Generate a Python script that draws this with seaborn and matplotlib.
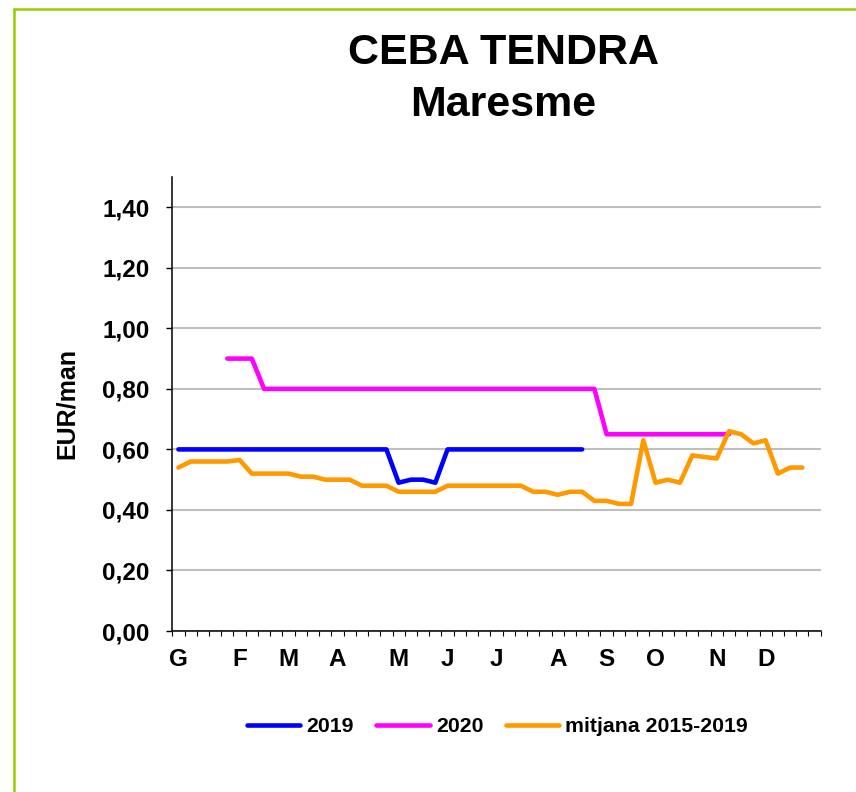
import matplotlib
matplotlib.use("Agg")
import matplotlib.pyplot as plt
from matplotlib.lines import Line2D
from matplotlib.ticker import FuncFormatter
import numpy as np
import pandas as pd
import seaborn as sns

# setmanes de l'any (53 categories a l'eix)
n_setmanes = 53
mesos = ["G", "F", "M", "A", "M", "J", "J", "A", "S", "O", "N", "D"]
setmana_mes = [0, 5, 9, 13, 18, 22, 26, 31, 35, 39, 44, 48]

setmanes_2019 = list(range(0, 34))
preu_2019 = [0.60] * 18 + [0.49, 0.50, 0.50, 0.49] + [0.60] * 12

setmanes_2020 = list(range(4, 46))
preu_2020 = [0.90] * 3 + [0.80] * 28 + [0.65] * 11

setmanes_mitjana = list(range(0, 52))
preu_mitjana = [0.54, 0.56, 0.56, 0.56, 0.56, 0.565, 0.52, 0.52, 0.52, 0.52,
                0.51, 0.51, 0.50, 0.50, 0.50, 0.48, 0.48, 0.48, 0.46, 0.46,
                0.46, 0.46, 0.48, 0.48, 0.48, 0.48, 0.48, 0.48, 0.48, 0.46,
                0.46, 0.45, 0.46, 0.46, 0.43, 0.43, 0.42, 0.42, 0.63, 0.49,
                0.50, 0.49, 0.58, 0.575, 0.57, 0.66, 0.65, 0.62, 0.63, 0.52,
                0.54, 0.54]

series = ["2019", "2020", "mitjana 2015-2019"]
colors = {"2019": "#0000FF", "2020": "#FF00FF", "mitjana 2015-2019": "#FF9900"}

df = pd.concat([
    pd.DataFrame({"setmana": setmanes_2019, "preu": preu_2019, "serie": "2019"}),
    pd.DataFrame({"setmana": setmanes_2020, "preu": preu_2020, "serie": "2020"}),
    pd.DataFrame({"setmana": setmanes_mitjana, "preu": preu_mitjana, "serie": "mitjana 2015-2019"}),
], ignore_index=True)

sns.set_theme(style="white")
plt.rcParams["font.family"] = ["Liberation Sans", "DejaVu Sans"]
plt.rcParams["font.weight"] = "bold"
plt.rcParams["text.color"] = "black"

W, H = 856, 792
fig = plt.figure(figsize=(W / 100, H / 100), dpi=100)
fig.patch.set_facecolor("white")

# marc verd (nomes es veu a l'esquerra i a dalt)
verd = "#99CC00"
fig.add_artist(Line2D([14 / W, 14 / W], [0, 1 - 9 / H], color=verd, lw=1.8))
fig.add_artist(Line2D([14 / W, 1], [1 - 9 / H, 1 - 9 / H], color=verd, lw=1.8))

left, right, top, bottom = 172.3, 820.7, 177, 631
ax = fig.add_axes([left / W, 1 - bottom / H, (right - left) / W, (bottom - top) / H])

sns.lineplot(data=df, x="setmana", y="preu", hue="serie", hue_order=series,
             palette=colors, estimator=None, sort=False, linewidth=3.3,
             legend=False, ax=ax)
for line in ax.get_lines():
    line.set_solid_capstyle("round")
    line.set_solid_joinstyle("round")

ax.set_xlim(-0.5, n_setmanes - 0.5)
ax.set_ylim(0, 1.5)
ax.set_yticks(np.arange(0, 1.41, 0.2))
ax.yaxis.set_major_formatter(FuncFormatter(lambda v, p: f"{v:.2f}".replace(".", ",")))
ax.set_xticks(setmana_mes)
ax.set_xticklabels(mesos)
ax.set_xticks(np.arange(-0.5, n_setmanes, 1), minor=True)

ax.tick_params(axis="y", which="major", direction="out", length=4.3, width=1,
               color="black", pad=12, labelsize=17.5, left=True)
ax.tick_params(axis="x", which="major", length=0, pad=12, labelsize=17.5, bottom=True)
ax.tick_params(axis="x", which="minor", direction="out", length=3.6, width=0.8,
               color="black", bottom=True)
for lab in ax.get_xticklabels() + ax.get_yticklabels():
    lab.set_fontweight("bold")
    lab.set_color("black")

ax.yaxis.grid(True, color="#BFBFBF", linewidth=1.5)
ax.xaxis.grid(False)
ax.set_axisbelow(True)
for s in ["top", "right"]:
    ax.spines[s].set_visible(False)
for s in ["left", "bottom"]:
    ax.spines[s].set_color("black")
    ax.spines[s].set_linewidth(1.1)
ax.set_xlabel("")
ax.set_ylabel("")

fig.text(67 / W, 1 - 404 / H, "EUR/man", rotation=90, ha="center", va="center",
         fontsize=18, fontweight="bold", color="black")

fig.text(503 / W, 1 - 63.5 / H, "CEBA TENDRA", ha="center", va="baseline",
         fontsize=31, fontweight="bold", color="black")
fig.text(503 / W, 1 - 116.5 / H, "Maresme", ha="center", va="baseline",
         fontsize=31, fontweight="bold", color="black")

handles = [Line2D([], [], color=colors[s], lw=3.3, solid_capstyle="round") for s in series]
leg = fig.legend(handles, series, loc="center", bbox_to_anchor=(497.5 / W, 1 - 726.7 / H),
                 ncol=3, frameon=False, handlelength=2.5, handletextpad=0.3,
                 columnspacing=1.05, prop={"size": 15.3, "weight": "bold"})
for t in leg.get_texts():
    t.set_color("black")

fig.savefig("out.png", dpi=100)
